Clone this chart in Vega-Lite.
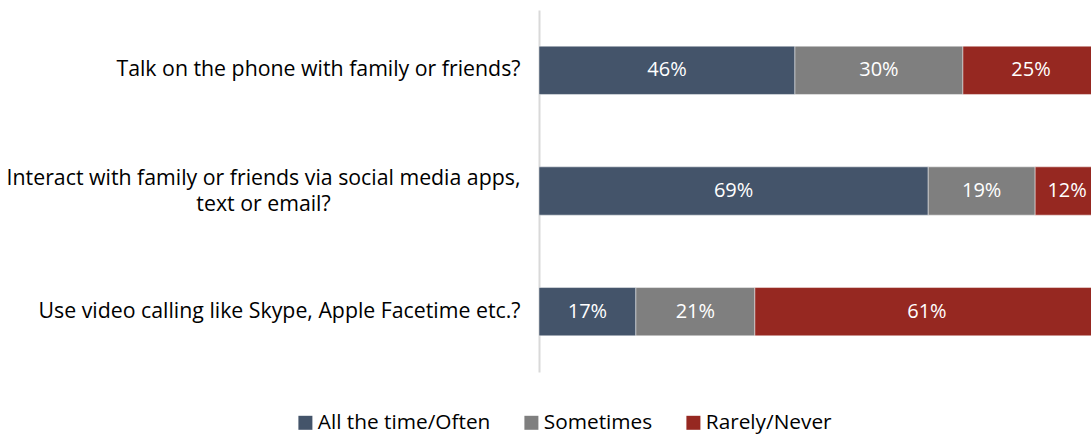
{
  "$schema": "https://vega.github.io/schema/vega-lite/v6.json",
  "autosize": "none",
  "width": 552,
  "height": 362,
  "padding": {"left": 539, "top": 10, "right": 0, "bottom": 62},
  "background": "white",
  "config": {"view": {"stroke": null}, "font": "Open Sans"},
  "data": {
    "values": [
      {"question": "Talk on the phone with family or friends?", "category": "All the time/Often", "order": 1, "value": 45.7, "pct": "46%"},
      {"question": "Talk on the phone with family or friends?", "category": "Sometimes", "order": 2, "value": 30.0, "pct": "30%"},
      {"question": "Talk on the phone with family or friends?", "category": "Rarely/Never", "order": 3, "value": 24.3, "pct": "25%"},
      {"question": "Interact with family or friends via social media apps, text or email?", "category": "All the time/Often", "order": 1, "value": 69.5, "pct": "69%"},
      {"question": "Interact with family or friends via social media apps, text or email?", "category": "Sometimes", "order": 2, "value": 19.1, "pct": "19%"},
      {"question": "Interact with family or friends via social media apps, text or email?", "category": "Rarely/Never", "order": 3, "value": 11.4, "pct": "12%"},
      {"question": "Use video calling like Skype, Apple Facetime etc.?", "category": "All the time/Often", "order": 1, "value": 17.3, "pct": "17%"},
      {"question": "Use video calling like Skype, Apple Facetime etc.?", "category": "Sometimes", "order": 2, "value": 21.25, "pct": "21%"},
      {"question": "Use video calling like Skype, Apple Facetime etc.?", "category": "Rarely/Never", "order": 3, "value": 61.45, "pct": "61%"}
    ]
  },
  "transform": [
    {"stack": "value", "groupby": ["question"], "sort": [{"field": "order"}], "as": ["x0", "x1"]},
    {"calculate": "(datum.x0 + datum.x1) / 2", "as": "xmid"}
  ],
  "encoding": {
    "y": {
      "field": "question",
      "type": "nominal",
      "sort": null,
      "scale": {"paddingInner": 0.6, "paddingOuter": 0.3},
      "axis": {
        "title": null,
        "ticks": false,
        "domainColor": "#d9d9d9",
        "domainWidth": 2,
        "labelFontSize": 21.3,
        "labelColor": "#000000",
        "labelLimit": 600,
        "labelLineHeight": 26,
        "labelExpr": "datum.value == 'Interact with family or friends via social media apps, text or email?' ? ['Interact with family or friends via social media apps,', 'text or email?'] : datum.value",
        "labelAlign": {"condition": {"test": "indexof(datum.value, 'Interact') == 0", "value": "center"}, "value": "right"},
        "labelPadding": {"condition": {"test": "indexof(datum.value, 'Interact') == 0", "value": 276}, "value": 19},
        "labelOffset": {"condition": {"test": "indexof(datum.value, 'Interact') == 0", "value": -12}, "value": 0}
      }
    }
  },
  "layer": [
    {
      "mark": {"type": "bar", "clip": true, "stroke": "#ffffff", "strokeWidth": 0.75, "strokeOpacity": 0.6},
      "encoding": {
        "x": {"field": "x0", "type": "quantitative", "scale": {"domain": [0, 98.57], "nice": false, "zero": true}, "axis": null},
        "x2": {"field": "x1"},
        "color": {
          "field": "category",
          "type": "nominal",
          "sort": ["All the time/Often", "Sometimes", "Rarely/Never"],
          "scale": {"domain": ["All the time/Often", "Sometimes", "Rarely/Never"], "range": ["#44546a", "#7f7f7f", "#962821"]},
          "legend": {
            "title": null,
            "orient": "none",
            "direction": "horizontal",
            "legendX": -244,
            "legendY": 402,
            "symbolType": "square",
            "symbolSize": 196,
            "symbolStrokeWidth": 0,
            "labelFontSize": 20.8,
            "labelColor": "#000000",
            "labelOffset": 2,
            "columnPadding": 30,
            "labelLimit": 300
          }
        }
      }
    },
    {
      "mark": {"type": "text", "color": "#ffffff", "fontSize": 20, "clip": true},
      "encoding": {
        "x": {"field": "xmid", "type": "quantitative"},
        "text": {"field": "pct"}
      }
    }
  ]
}
